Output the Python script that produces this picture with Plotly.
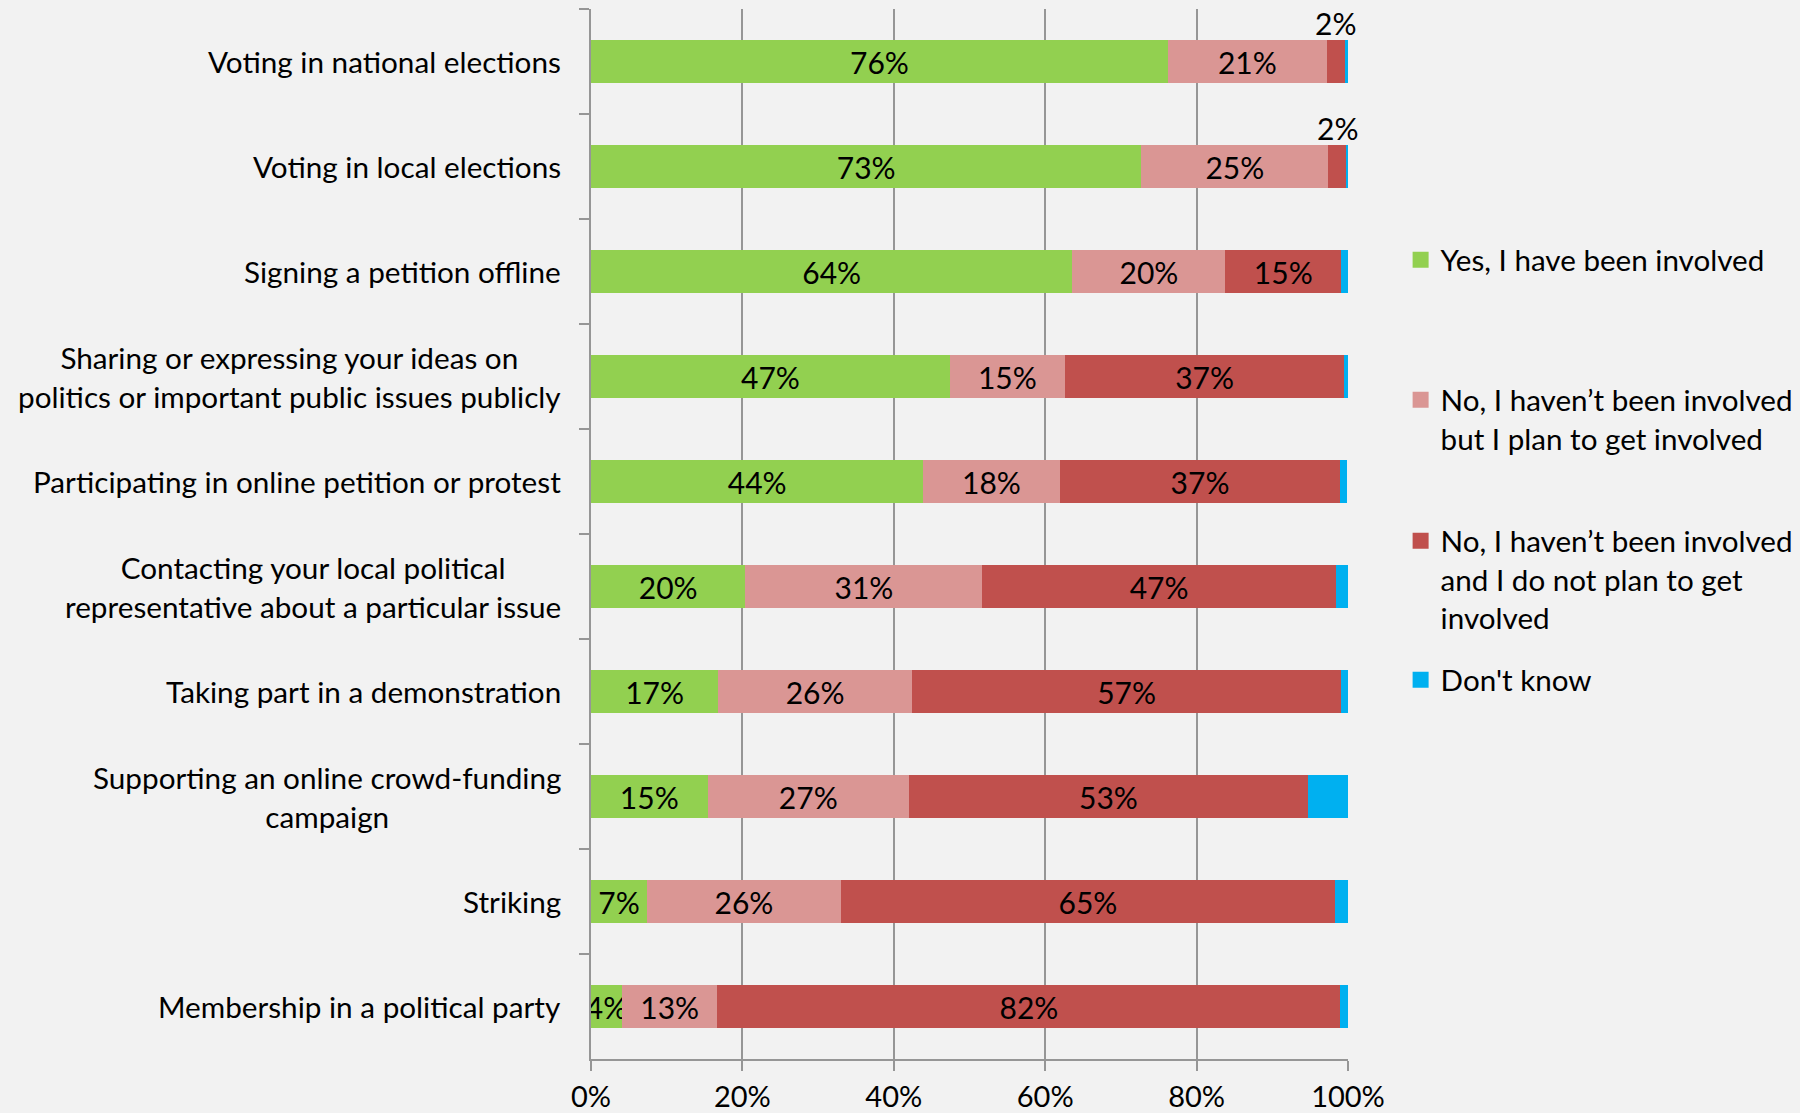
import plotly.graph_objects as go

# Survey: forms of civic / political participation (share of respondents, %)
activities = [
    "Voting in national elections",
    "Voting in local elections",
    "Signing a petition offline",
    "Sharing or expressing your ideas on<br>politics or important public issues publicly",
    "Participating in online petition or protest",
    "Contacting your local political<br>representative about a particular issue",
    "Taking part in a demonstration",
    "Supporting an online crowd-funding<br>campaign",
    "Striking",
    "Membership in a political party",
]
yes_involved = [76.2, 72.7, 63.6, 47.4, 43.9, 20.4, 16.8, 15.4, 7.4, 4.1]
plan_to = [21.0, 24.7, 20.2, 15.2, 18.0, 31.3, 25.6, 26.6, 25.6, 12.6]
no_plan = [2.35, 2.4, 15.3, 36.9, 37.1, 46.7, 56.7, 52.7, 65.3, 82.3]
dont_know = [0.45, 0.2, 0.9, 0.5, 0.9, 1.6, 0.9, 5.3, 1.7, 1.0]

series_names = [
    "Yes, I have been involved",
    "No, I haven’t been involved<br>but I plan to get involved",
    "No, I haven’t been involved<br>and I do not plan to get<br>involved",
    "Don't know",
]
series_values = [yes_involved, plan_to, no_plan, dont_know]
series_colors = ["#92d050", "#da9694", "#c0504d", "#00b0f0"]
x_ticks = [0, 20, 40, 60, 80, 100]
x_tick_labels = [f"{v}%" for v in x_ticks]

FONT = "Lato, Carlito, 'Open Sans', sans-serif"
FS = 30
AXIS_GREY = "#969696"
BG = "#f2f2f2"

fig = go.Figure()

legend_ids = ["legend", "legend2", "legend3", "legend4"]
for i, (name, vals, col) in enumerate(zip(series_names, series_values, series_colors)):
    if i == 3:
        labels = ["" for _ in vals]
    elif i == 2:
        labels = [f"{v:.0f}%" if v >= 5 else "" for v in vals]
    else:
        labels = [f"{v:.0f}%" for v in vals]
    fig.add_trace(go.Bar(
        y=activities, x=vals, orientation="h", name=name,
        marker=dict(color=col, line=dict(width=0)),
        text=labels, textposition="inside", insidetextanchor="middle",
        textangle=0, constraintext="none",
        textfont=dict(family=FONT, size=FS, color="black"),
        legendgroup=f"g{i}", showlegend=False,
        hovertemplate="%{y}: %{x:.1f}%<extra></extra>",
    ))
    # legend swatch (larger square than the default bar symbol)
    fig.add_trace(go.Scatter(
        x=[None], y=[None], mode="markers", name=name,
        marker=dict(symbol="square", size=16, color=col),
        legendgroup=f"g{i}", legend=legend_ids[i], showlegend=True,
    ))

# small "no plan" shares are labelled just above the bar end
annotations = []
for cat, g, p, r in zip(activities, yes_involved, plan_to, no_plan):
    if r < 5:
        annotations.append(dict(
            x=g + p + r / 2, y=cat, xref="x", yref="y", yshift=39,
            text=f"{r:.0f}%", showarrow=False,
            font=dict(family=FONT, size=FS, color="black"),
        ))

# category labels (centre-aligned lines, right-anchored to the axis)
for cat in activities:
    annotations.append(dict(
        x=0, y=cat, xref="paper", yref="y", xanchor="right", xshift=-28,
        align="center", text=cat, showarrow=False,
        font=dict(family=FONT, size=29.7, color="black"),
    ))

plot_top, plot_bottom = 9, 1059
def py(pix):
    return (plot_bottom - pix) / (plot_bottom - plot_top)

legend_tops = [234, 374, 515, 654]
legend_layout = {}
for lid, top in zip(legend_ids, legend_tops):
    legend_layout[lid] = dict(
        x=1.0695, y=py(top), xanchor="left", yanchor="top", valign="top",
        bgcolor="rgba(0,0,0,0)", borderwidth=0, itemsizing="trace",
        font=dict(family=FONT, size=29.6, color="black"),
    )

fig.update_layout(
    width=1800, height=1113,
    margin=dict(l=591, r=452, t=plot_top, b=1113 - plot_bottom, pad=0,
                autoexpand=False),
    paper_bgcolor=BG, plot_bgcolor=BG,
    barmode="stack", bargap=0.59,
    font=dict(family=FONT, size=FS, color="black"),
    annotations=annotations,
    **legend_layout,
)

fig.update_xaxes(
    range=[0, 100], tickvals=x_ticks, ticktext=x_tick_labels,
    showgrid=True, gridcolor=AXIS_GREY, gridwidth=1.5,
    zeroline=False, showline=True, linecolor=AXIS_GREY, linewidth=1.5,
    ticks="outside", ticklen=10, tickwidth=1.5, tickcolor=AXIS_GREY,
    ticklabelstandoff=1, automargin=False,
    tickfont=dict(family=FONT, size=29, color="black"),
)
fig.update_yaxes(
    autorange="reversed", showticklabels=False, automargin=False,
    tickson="boundaries", ticks="outside", ticklen=10, tickwidth=1.5, tickcolor=AXIS_GREY,
    showline=True, linecolor=AXIS_GREY, linewidth=1.5, showgrid=False,
)

fig.write_html("out.html")
